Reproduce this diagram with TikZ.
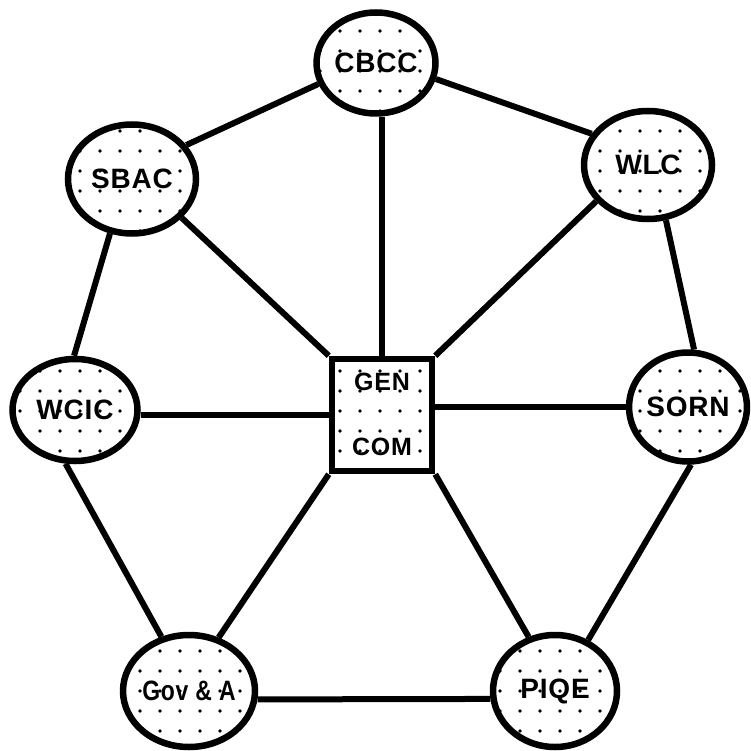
\documentclass[tikz,border=0pt]{standalone}
\usepackage{fontspec}
\setmainfont{Liberation Sans}
\newfontfamily\lblfont[LetterSpace=3]{Liberation Sans}
\usetikzlibrary{shapes.geometric,patterns.meta}
\begin{document}
\begin{tikzpicture}[x=1pt,y=-1pt,
  dotted fill/.style={pattern={Dots[distance=20pt,radius=1.9pt]}},
  org/.style={ellipse,draw,line width=6.5pt,dotted fill,inner sep=0pt,
    font=\lblfont\fontsize{28}{32}\selectfont\bfseries},
  hub/.style={rectangle,draw,line width=6.5pt,dotted fill,inner sep=0pt,
    minimum width=100pt,minimum height=112pt},
  hubtext/.style={font=\lblfont\fontsize{25}{30}\selectfont\bfseries},
  link/.style={line width=6pt}]
\useasboundingbox (0,0) rectangle (750,751);
\node[org,minimum width=119pt,minimum height=101pt] (CBCC) at (376,63) {CBCC};
\node[org,minimum width=128pt,minimum height=109pt] (SBAC) at (132,179) {SBAC};
\node[org,minimum width=128pt,minimum height=108pt] (WLC) at (648,165) {WLC};
\node[org,minimum width=125pt,minimum height=102pt] (WCIC) at (75,410) {WCIC};
\node[org,minimum width=116pt,minimum height=109pt] (SORN) at (688,407) {SORN};
\node[org,minimum width=124pt,minimum height=112pt] (GOV) at (189,691)
  {\scalebox{0.82}[1]{Gov \& A}};
\node[org,minimum width=124pt,minimum height=112pt] (PIQE) at (555,691) {PIQE};
\node[hub] (GEN) at (382,415) {};
\node[hubtext] (GENtxt) at (382,382) {GEN};
\node[hubtext] (COMtxt) at (382,447) {COM};
% outer ring
\draw[link] (CBCC.-160) -- (SBAC.32);
\draw[link] (CBCC.-15) -- (WLC.151);
\draw[link] (SBAC.-112) -- (WCIC.91);
\draw[link] (WLC.-72) -- (SORN.84);
\draw[link] (WCIC.-100) -- (GOV.117);
\draw[link] (SORN.-87) -- (PIQE.57);
\draw[link] (GOV.-7) -- (PIQE.-173);
% spokes
\draw[link] (GEN.north) -- (GEN.north |- CBCC.south);
\draw[link] (GEN.north west) -- (SBAC.-38);
\draw[link] (GEN.north east) -- (WLC.-145);
\draw[link] (GEN.west) -- (GEN.west -| WCIC.east);
\draw[link] (SORN.west) -- (SORN.west -| GEN.east);
\draw[link] (GEN.south west) -- (GOV.61);
\draw[link] (GEN.south east) -- (PIQE.116);
\end{tikzpicture}
\end{document}
